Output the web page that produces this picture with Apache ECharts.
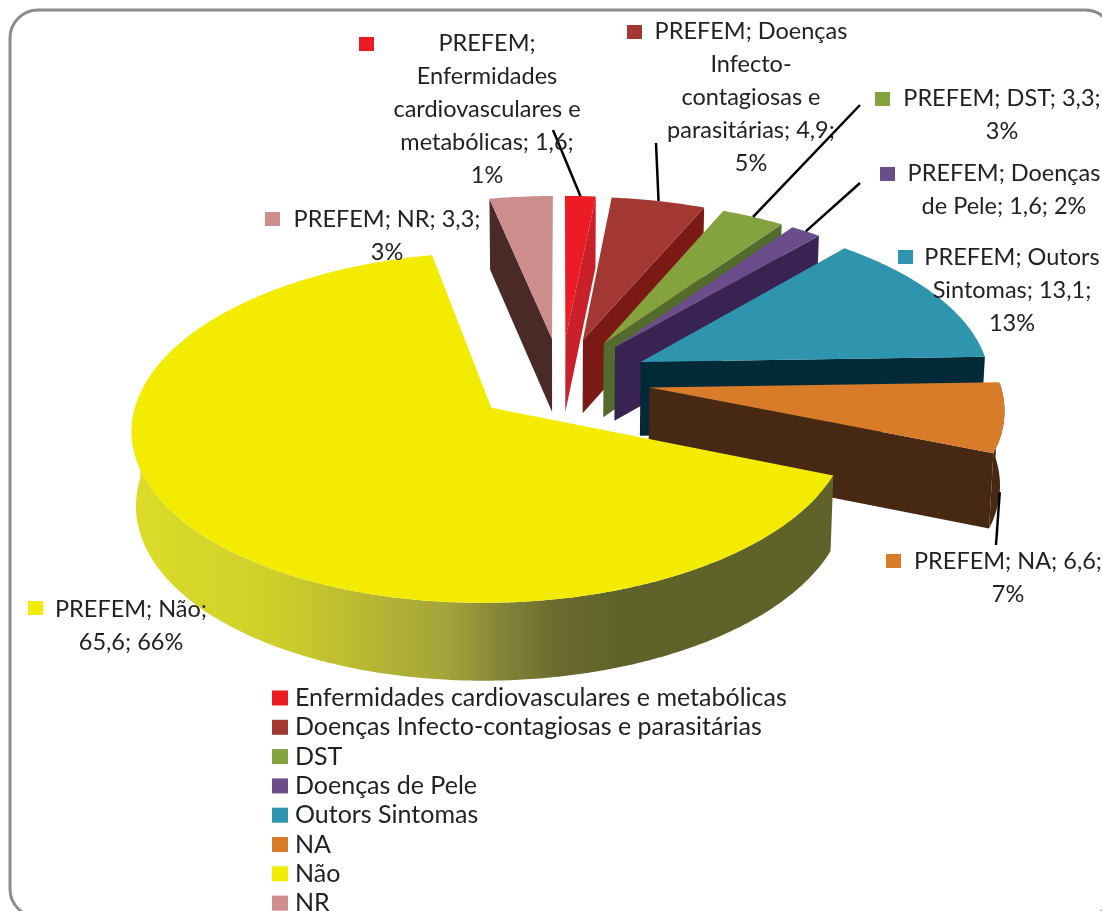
<!DOCTYPE html>
<html>
<head>
<meta charset="utf-8">
<title>PREFEM</title>
<style>
  html, body { margin: 0; padding: 0; background: #fff; }
  #main { width: 1102px; height: 911px; }
</style>
<script src="https://cdn.jsdelivr.net/npm/echarts@6/dist/echarts.min.js"></script>
</head>
<body>
<div id="main"></div>
<script>
const categories = ['Enfermidades cardiovasculares e metabólicas', 'Doenças Infecto-contagiosas e parasitárias', 'DST', 'Doenças de Pele', 'Outors Sintomas', 'NA', 'Não', 'NR'];
const values = [1.6, 4.9, 3.3, 1.6, 13.1, 6.6, 65.6, 3.3];
const labelTexts = [
  'PREFEM;\nEnfermidades\ncardiovasculares e\nmetabólicas; 1,6;\n1%',
  'PREFEM; Doenças\nInfecto-\ncontagiosas e\nparasitárias; 4,9;\n5%',
  'PREFEM; DST; 3,3;\n3%',
  'PREFEM; Doenças\nde Pele; 1,6; 2%',
  'PREFEM; Outors\nSintomas; 13,1;\n13%',
  'PREFEM; NA; 6,6;\n7%',
  'PREFEM; Não;\n65,6; 66%',
  'PREFEM; NR; 3,3;\n3%'
];
const topColors = ['#ed1c24', '#a33833', '#84a33f', '#6b4d8c', '#2f94ae', '#d87c29', '#f4ec00', '#cd8d8d'];
const wallColors = ['#c9202a', '#7b1a14', '#546b2e', '#392352', '#002a38', '#472812', '#5f6229', '#4a2a26'];

// text box centre x / top y, marker x / y, leader start (null = no leader), leader goes to wall foot?
const labelLayout = [
  { x: 487, y: 27, mx: 359, my: 37, from: [553, 130] },
  { x: 751, y: 15, mx: 627, my: 25, from: [656, 143] },
  { x: 1002, y: 82, mx: 875, my: 92, from: [860, 105] },
  { x: 1004, y: 157, mx: 880, my: 167, from: [860, 183] },
  { x: 1012, y: 241, mx: 898, my: 250, from: null },
  { x: 1008, y: 545, mx: 886, my: 554, from: [996, 545], foot: true },
  { x: 131, y: 593, mx: 28, my: 601, from: null },
  { x: 387, y: 203, mx: 265, my: 212, from: null }
];

// 3d pie projection, fitted by eye
const cx = 561, cy = 380, radiusX = 350, radiusY = 167, persp = 0.11, explode = 0.255, depth = 74;
const total = values.reduce((a, b) => a + b, 0);
const FONT = 'Lato, "Open Sans", sans-serif';

function project(x, y, z) {
  const w = 1 / (1 - persp * y);
  return [cx + x * radiusX * w * (1 - 0.01 * z), cy + y * radiusY * w + z * depth * (1 + (w - 1) * 0.35)];
}
function dir(a) {
  return [Math.sin(a), -Math.cos(a)];
}
function startAngle(i) {
  let sum = 0;
  for (let k = 0; k < i; k++) sum += values[k];
  return sum / total * Math.PI * 2;
}
function apexOf(a0, a1) {
  const d = dir((a0 + a1) / 2);
  return [d[0] * explode, d[1] * explode];
}
function rimPoint(apex, a, z) {
  const d = dir(a);
  return project(apex[0] + d[0], apex[1] + d[1], z);
}
function poly(points, fill) {
  return { type: 'polygon', shape: { points: points }, style: { fill: fill } };
}

function renderSlice(i) {
  return function (params, api) {
    const a0 = startAngle(i);
    const a1 = a0 + api.value(0) / total * Math.PI * 2;
    const apex = apexOf(a0, a1);
    const wall = wallColors[i];
    const kids = [];

    // side cut faces, only the ones turned to the viewer
    if (Math.sin(a0) < 0) {
      kids.push(poly([project(apex[0], apex[1], 0), rimPoint(apex, a0, 0), rimPoint(apex, a0, 1), project(apex[0], apex[1], 1)], wall));
    }
    if (Math.sin(a1) > 0) {
      kids.push(poly([project(apex[0], apex[1], 0), rimPoint(apex, a1, 0), rimPoint(apex, a1, 1), project(apex[0], apex[1], 1)], wall));
    }

    // outer wall, front half only
    const steps = Math.max(4, Math.ceil((a1 - a0) / 0.01));
    const rimTop = [], rimBottom = [], top = [project(apex[0], apex[1], 0)];
    for (let s = 0; s <= steps; s++) {
      const a = a0 + (a1 - a0) * s / steps;
      top.push(rimPoint(apex, a, 0));
      if (Math.cos(a) < 0.03) {
        rimTop.push(rimPoint(apex, a, 0));
        rimBottom.unshift(rimPoint(apex, a, 1));
      }
    }
    if (rimTop.length > 1) {
      let fill = wall;
      if (categories[i] === 'Não') {
        fill = new echarts.graphic.LinearGradient(130, 0, 840, 0, [
          { offset: 0, color: '#dcdc28' },
          { offset: 0.2, color: '#cfcf2b' },
          { offset: 0.45, color: '#a3a33a' },
          { offset: 0.52, color: '#85853a' },
          { offset: 0.6, color: '#6a6c2e' },
          { offset: 0.7, color: '#5f6229' },
          { offset: 1, color: '#5f6229' }
        ], true);
      }
      kids.push(poly(rimTop.concat(rimBottom), fill));
    }

    kids.push(poly(top, topColors[i]));
    return { type: 'group', children: kids };
  };
}

function renderLabel(params, api) {
  const i = api.value(0);
  const l = labelLayout[i];
  const a0 = startAngle(i);
  const a1 = a0 + values[i] / total * Math.PI * 2;
  const kids = [];
  if (l.from) {
    const end = rimPoint(apexOf(a0, a1), (a0 + a1) / 2, l.foot ? 1 : 0);
    kids.push({
      type: 'line',
      shape: { x1: l.from[0], y1: l.from[1], x2: end[0], y2: end[1] },
      style: { stroke: '#000', lineWidth: 2.5 }
    });
  }
  kids.push({
    type: 'rect',
    shape: { x: l.mx, y: l.my, width: 15, height: 14 },
    style: { fill: topColors[i] }
  });
  kids.push({
    type: 'text',
    style: {
      x: l.x, y: l.y, text: labelTexts[i], align: 'center', verticalAlign: 'top',
      fontFamily: FONT, fontSize: 23.5, lineHeight: 33, fill: '#222'
    }
  });
  return { type: 'group', children: kids };
}

const series = categories.map(function (name, i) {
  return {
    name: name,
    type: 'custom',
    coordinateSystem: 'none',
    renderItem: renderSlice(i),
    itemStyle: { color: topColors[i] },
    data: [[values[i]]],
    silent: true,
    animation: false,
    z: name === 'Não' ? 4 : 2 + i * 0.1
  };
});
series.push({
  name: 'labels',
  type: 'custom',
  coordinateSystem: 'none',
  renderItem: renderLabel,
  data: categories.map(function (c, i) { return [i]; }),
  silent: true,
  animation: false,
  z: 10
});

const chart = echarts.init(document.getElementById('main'), null, { renderer: 'canvas' });
chart.setOption({
  animation: false,
  backgroundColor: '#fff',
  graphic: [{
    type: 'rect',
    z: -1,
    shape: { x: 10, y: 10, width: 1103, height: 907, r: 28 },
    style: { fill: '#fff', stroke: '#8c8c8c', lineWidth: 3 }
  }],
  legend: {
    data: categories,
    orient: 'vertical',
    left: 272,
    top: 685,
    height: 300,
    padding: 0,
    icon: 'rect',
    itemWidth: 16,
    itemHeight: 15,
    itemGap: 3.3,
    selectedMode: false,
    textStyle: { fontFamily: FONT, fontSize: 25, lineHeight: 26, color: '#222', padding: [0, 0, 0, 2] }
  },
  series: series
});
</script>
</body>
</html>
